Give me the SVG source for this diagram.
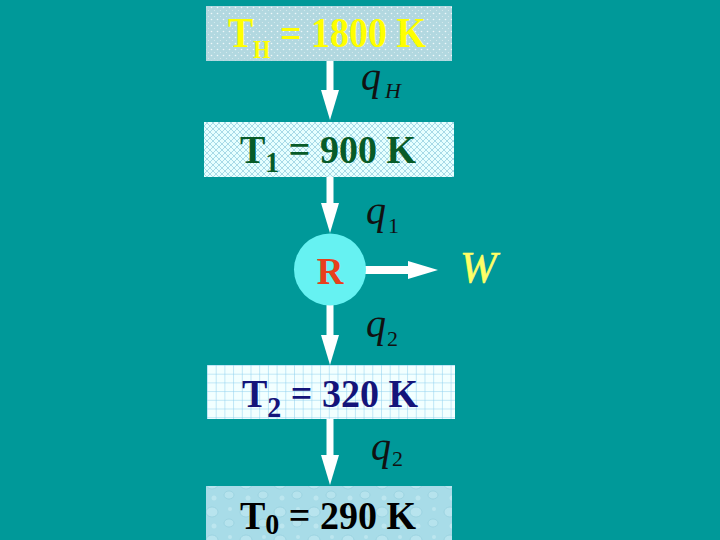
<svg xmlns="http://www.w3.org/2000/svg" width="720" height="540" viewBox="0 0 720 540">
<defs>
<pattern id="dots" width="6" height="6" patternUnits="userSpaceOnUse">
<rect width="6" height="6" fill="#b2d8e0"/>
<circle cx="1.5" cy="1.5" r="0.8" fill="#ffffff" opacity="0.8"/>
<circle cx="4.5" cy="4.5" r="0.6" fill="#ffffff" opacity="0.5"/>
</pattern>
<pattern id="hatch" width="6" height="6" patternUnits="userSpaceOnUse">
<rect width="6" height="6" fill="#e6ffff"/>
<path d="M0,0 L6,6 M6,0 L0,6" stroke="#a0d6e4" stroke-width="0.9"/>
</pattern>
<pattern id="grid" x="207" y="365" width="8.7" height="8.7" patternUnits="userSpaceOnUse">
<rect width="8.7" height="8.7" fill="#f2ffff"/>
<path d="M0,0 H8.7 M0,0 V8.7" stroke="#8ccfee" stroke-width="1"/>
</pattern>
<pattern id="drops" width="34" height="28" patternUnits="userSpaceOnUse">
<rect width="34" height="28" fill="#a8dce8"/>
<ellipse cx="8" cy="8" rx="6" ry="5" fill="#b8e4ee" stroke="#94cedd" stroke-width="0.7"/>
<ellipse cx="25" cy="19" rx="5" ry="4" fill="#b6e3ed" stroke="#94cedd" stroke-width="0.7"/>
<circle cx="26" cy="5" r="2" fill="#bce6ef"/>
<circle cx="10" cy="22" r="2.5" fill="#bce6ef"/>
</pattern>
<marker id="head" markerUnits="userSpaceOnUse" markerWidth="30" markerHeight="18" refX="0" refY="9" orient="auto" overflow="visible">
<path d="M0,0 L30,9 L0,18 Z" fill="#ffffff"/>
</marker>
<style>
.box{font-family:"Liberation Serif","Times New Roman",serif;font-weight:bold;font-size:38px}
.q{font-family:"Liberation Serif","Times New Roman",serif;font-style:italic;fill:#111111}
.arr{stroke:#ffffff;stroke-width:7;fill:none;marker-end:url(#head)}
</style>
</defs>
<rect width="720" height="540" fill="#009999"/>
<g id="connectors">
<line class="arr" x1="330" y1="61" x2="330" y2="90"/>
<line class="arr" x1="330" y1="177" x2="330" y2="203"/>
<line class="arr" x1="330" y1="305" x2="330" y2="335"/>
<line class="arr" x1="330" y1="419" x2="330" y2="455"/>
<line class="arr" x1="364" y1="270" x2="408" y2="270" style="stroke-width:8"/>
<text class="q" x="361" y="90" font-size="40">q<tspan x="385" y="98" font-size="22">H</tspan></text>
<text class="q" x="366" y="224" font-size="40">q<tspan x="388" y="233" font-size="22" font-style="normal">1</tspan></text>
<text class="q" x="366" y="337" font-size="40">q<tspan x="387" y="346" font-size="22" font-style="normal">2</tspan></text>
<text class="q" x="371" y="460" font-size="40">q<tspan x="392" y="466" font-size="22" font-style="normal">2</tspan></text>
</g>
<g id="TH">
<rect x="206" y="6" width="246" height="55" fill="url(#dots)"/>
<text class="box" fill="#ffff00" transform="translate(228,47) scale(1,1.1)">T<tspan font-size="22" dy="10">H</tspan><tspan dy="-10"> = 1800 K</tspan></text>
</g>
<g id="T1">
<rect x="204" y="122" width="250" height="55" fill="url(#hatch)"/>
<text class="box" fill="#075c28" transform="translate(240,163) scale(1,1.05)">T<tspan font-size="28" dy="9">1</tspan><tspan dy="-9"> = 900 K</tspan></text>
</g>
<g id="R">
<circle cx="330" cy="269.5" r="36" fill="#66f2f2"/>
<text x="330" y="284" text-anchor="middle" font-family="Liberation Serif, Times New Roman, serif" font-weight="bold" font-size="37" fill="#e8401c">R</text>
</g>
<g id="W">
<text x="460" y="282" font-family="Liberation Serif, Times New Roman, serif" font-style="italic" font-size="44" fill="#ffff66" stroke="#ffff66" stroke-width="0.6">W</text>
</g>
<g id="T2">
<rect x="207" y="365" width="248" height="54" fill="url(#grid)"/>
<text class="box" fill="#14147a" transform="translate(242,407) scale(1,1.08)">T<tspan font-size="28" dy="9">2</tspan><tspan dy="-9"> = 320 K</tspan></text>
</g>
<g id="T0">
<rect x="206" y="486" width="246" height="54" fill="url(#drops)"/>
<text class="box" fill="#000000" transform="translate(240,529) scale(1,1.05)">T<tspan font-size="28" dy="5">0</tspan><tspan dy="-5"> = 290 K</tspan></text>
</g>
</svg>
